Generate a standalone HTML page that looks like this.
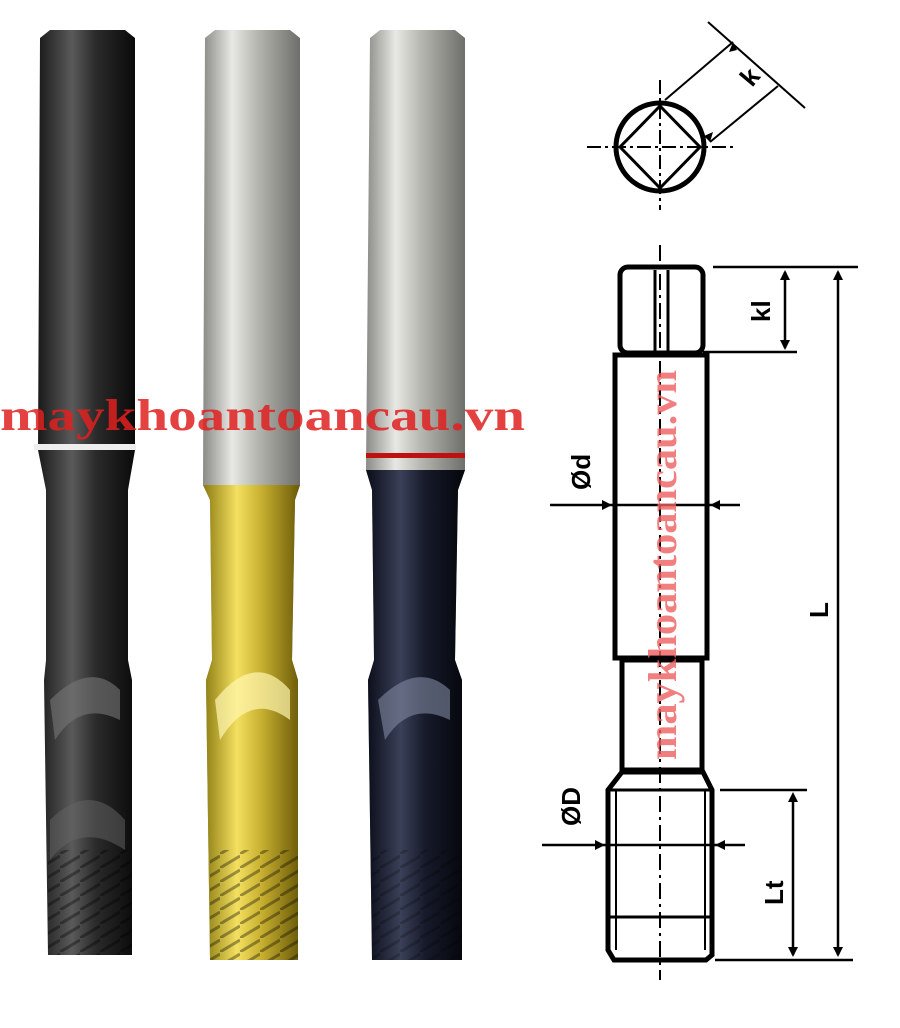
<!DOCTYPE html>
<html><head><meta charset="utf-8"><style>
html,body{margin:0;padding:0;background:#fff;}
svg{display:block;}
</style></head><body>
<svg width="900" height="1028" viewBox="0 0 900 1028" xmlns="http://www.w3.org/2000/svg">
<defs>
<linearGradient id="blk" x1="0" x2="1"><stop offset="0" stop-color="#1a1a1a"/><stop offset=".35" stop-color="#5a5a5a"/><stop offset=".6" stop-color="#2a2a2a"/><stop offset="1" stop-color="#0a0a0a"/></linearGradient>
<linearGradient id="sil" x1="0" x2="1"><stop offset="0" stop-color="#8a8a86"/><stop offset=".3" stop-color="#e8e8e4"/><stop offset=".55" stop-color="#b8b8b2"/><stop offset="1" stop-color="#6e6e6a"/></linearGradient>
<linearGradient id="gold" x1="0" x2="1"><stop offset="0" stop-color="#8a7a10"/><stop offset=".35" stop-color="#f4e060"/><stop offset=".6" stop-color="#c8b030"/><stop offset="1" stop-color="#6a5a08"/></linearGradient>
<linearGradient id="navy" x1="0" x2="1"><stop offset="0" stop-color="#0a0c18"/><stop offset=".35" stop-color="#3a4058"/><stop offset=".6" stop-color="#161a2a"/><stop offset="1" stop-color="#05060c"/></linearGradient>
<pattern id="thr" width="20" height="14" patternUnits="userSpaceOnUse"><path d="M0 14 L20 2" stroke="#000" stroke-width="3" opacity=".35"/></pattern>
</defs>
<path d="M40 38 L50 30 L125 30 L135 38 L135 450 L128 490 L128 660 L132 680 L132 955 L48 955 L44 680 L46 660 L46 490 L38 450 Z" fill="url(#blk)"/>
<rect x="34" y="444" width="102" height="6" fill="#eee"/>
<path d="M50 700 Q90 660 120 690 L120 720 Q80 700 55 740 Z" fill="#777" opacity=".6"/>
<path d="M50 820 Q90 780 125 820 L125 850 Q80 820 50 860 Z" fill="#666" opacity=".5"/>
<rect x="48" y="850" width="84" height="105" fill="url(#thr)"/>
<path d="M205 38 L215 30 L290 30 L300 38 L300 485 L295 500 L292 660 L298 680 L298 960 L210 960 L206 680 L212 660 L210 500 L203 485 Z" fill="url(#sil)"/>
<path d="M203 485 L300 485 L295 500 L292 660 L298 680 L298 960 L210 960 L206 680 L212 660 L210 500 Z" fill="url(#gold)"/>
<path d="M215 700 Q255 650 290 690 L290 720 Q250 690 220 740 Z" fill="#fff6b0" opacity=".7"/>
<rect x="210" y="850" width="88" height="110" fill="url(#thr)"/>
<path d="M370 38 L380 30 L455 30 L465 38 L465 470 L458 490 L455 660 L462 680 L462 960 L372 960 L368 680 L374 660 L372 490 L366 470 Z" fill="url(#sil)"/>
<rect x="366" y="453" width="99" height="5" fill="#c01010"/>
<path d="M366 470 L465 470 L458 490 L455 660 L462 680 L462 960 L372 960 L368 680 L374 660 L372 490 Z" fill="url(#navy)"/>
<path d="M378 700 Q418 660 450 690 L450 720 Q410 700 385 740 Z" fill="#8088a0" opacity=".6"/>
<rect x="372" y="850" width="90" height="110" fill="url(#thr)" opacity=".6"/>
<text x="0" y="430" textLength="525" lengthAdjust="spacingAndGlyphs" font-family="Liberation Serif, serif" font-weight="bold" font-size="44" fill="#e02020" opacity=".85">maykhoantoancau.vn</text>
<g stroke="#000" fill="none">
<circle cx="660" cy="147" r="44" stroke-width="5"/>
<path d="M660 106 L700 147 L660 188 L620 147 Z" stroke-width="3"/>
<line x1="660" y1="80" x2="660" y2="210" stroke-width="2" stroke-dasharray="14 4 3 4"/>
<line x1="587" y1="147" x2="733" y2="147" stroke-width="2" stroke-dasharray="14 4 3 4"/>
<line x1="665" y1="100" x2="733" y2="42" stroke-width="2"/>
<line x1="710" y1="142" x2="778" y2="86" stroke-width="2"/>
<line x1="708" y1="22" x2="805" y2="108" stroke-width="2"/>
<rect x="620" y="267" width="83" height="86" rx="8" stroke-width="5"/>
<line x1="655" y1="270" x2="655" y2="352" stroke-width="3"/>
<line x1="668" y1="270" x2="668" y2="352" stroke-width="3"/>
<line x1="660" y1="245" x2="660" y2="980" stroke-width="2" stroke-dasharray="16 5 3 5"/>
<rect x="615" y="355" width="92" height="303" stroke-width="5"/>
<rect x="622" y="660" width="80" height="110" stroke-width="5"/>
<path d="M622 772 L703 772 L712 790 L712 955 L706 960 L614 960 L608 950 L608 790 Z" stroke-width="5"/>
<line x1="608" y1="790" x2="712" y2="790" stroke-width="3"/>
<line x1="610" y1="917" x2="712" y2="917" stroke-width="3"/>
<line x1="616" y1="790" x2="616" y2="950" stroke-width="2"/>
<line x1="705" y1="790" x2="705" y2="950" stroke-width="2"/>
<line x1="713" y1="267" x2="858" y2="267" stroke-width="2.5"/>
<line x1="703" y1="352" x2="797" y2="352" stroke-width="2.5"/>
<line x1="785" y1="272" x2="785" y2="348" stroke-width="2.5"/>
<line x1="838" y1="272" x2="838" y2="955" stroke-width="2.5"/>
<line x1="720" y1="790" x2="807" y2="790" stroke-width="2.5"/>
<line x1="793" y1="795" x2="793" y2="955" stroke-width="2.5"/>
<line x1="715" y1="960" x2="853" y2="960" stroke-width="2.5"/>
<line x1="550" y1="505" x2="740" y2="505" stroke-width="2.5"/>
<line x1="542" y1="845" x2="745" y2="845" stroke-width="2.5"/>
</g>
<g fill="#000">
<path d="M785 270 l-5 10 h10z M785 350 l-5 -10 h10z"/>
<path d="M838 270 l-5 10 h10z M838 957 l-5 -10 h10z"/>
<path d="M793 792 l-5 10 h10z M793 957 l-5 -10 h10z"/>
<path d="M612 505 l-10 -5 v10z M710 505 l10 -5 v10z"/>
<path d="M605 845 l-10 -5 v10z M715 845 l10 -5 v10z"/>
<path d="M733 42 l-4 10 l8 -2z M710 142 l3 -10 l-9 4z"/>
</g>
<g font-family="Liberation Sans, sans-serif" font-weight="bold" font-size="26" fill="#000">
<text transform="translate(752 88) rotate(-50)">k</text>
<text transform="translate(770 322) rotate(-90)">kl</text>
<text transform="translate(590 490) rotate(-90)">Ød</text>
<text transform="translate(580 826) rotate(-90)">ØD</text>
<text transform="translate(783 905) rotate(-90)">Lt</text>
<text transform="translate(828 618) rotate(-90)">L</text>
</g>
<text transform="translate(676 760) rotate(-90)" textLength="390" lengthAdjust="spacingAndGlyphs" font-family="Liberation Serif, serif" font-weight="bold" font-size="40" fill="#f06060" opacity=".8">maykhoantoancau.vn</text>
</svg>
</body></html>
